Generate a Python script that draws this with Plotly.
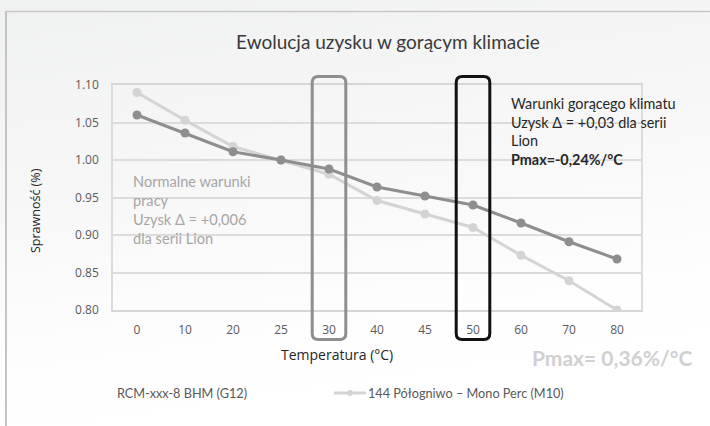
import base64
import plotly.graph_objects as go

# ---- data ----
temperatures = ["0", "10", "20", "25", "30", "40", "45", "50", "60", "70", "80"]
rcm_g12 = [1.060, 1.036, 1.011, 1.000, 0.988, 0.964, 0.952, 0.940, 0.916, 0.891, 0.868]
mono_m10 = [1.090, 1.053, 1.018, 1.000, 0.981, 0.946, 0.928, 0.910, 0.873, 0.839, 0.800]
y_ticks = [0.80, 0.85, 0.90, 0.95, 1.00, 1.05, 1.10]
highlight_normal = "30"
highlight_hot = "50"

W, H = 710, 426
ML, MR, MT, MB = 113, 69, 85, 116
PW, PH = W - ML - MR, H - MT - MB
XMIN, XMAX = -0.5, len(temperatures) - 0.5
YMIN, YMAX = 0.80, 1.10

DARK = "#8e8e90"
LIGHT = "#d4d4d4"

idx = list(range(len(temperatures)))


def px_x(p):
    return (p - ML) / PW


def px_y(p):
    return (H - MB - p) / PH


def xp(i):
    return (i - XMIN) / (XMAX - XMIN)


def rounded_box(cat, color, width):
    i = temperatures.index(cat)
    x0, x1 = xp(i - 0.35), xp(i + 0.35)
    y0, y1 = px_y(339.5), px_y(76.5)
    rx, ry = 6 / PW, 6 / PH
    path = (f"M {x0+rx},{y1} L {x1-rx},{y1} Q {x1},{y1} {x1},{y1-ry} "
            f"L {x1},{y0+ry} Q {x1},{y0} {x1-rx},{y0} L {x0+rx},{y0} "
            f"Q {x0},{y0} {x0},{y0+ry} L {x0},{y1-ry} Q {x0},{y1} {x0+rx},{y1} Z")
    return dict(type="path", path=path, xref="paper", yref="paper",
                line=dict(color=color, width=width), fillcolor="rgba(0,0,0,0)",
                layer="above")


fig = go.Figure()
fig.add_trace(go.Scatter(x=idx, y=mono_m10, mode="lines+markers",
                         line=dict(color=LIGHT, width=3),
                         marker=dict(color=LIGHT, size=9),
                         name="144 Półogniwo – Mono Perc (M10)", showlegend=False))
fig.add_trace(go.Scatter(x=idx, y=rcm_g12, mode="lines+markers",
                         line=dict(color=DARK, width=3),
                         marker=dict(color=DARK, size=9),
                         name="RCM-xxx-8 BHM (G12)", showlegend=False))

svg = (f'<svg xmlns="http://www.w3.org/2000/svg" width="{W}" height="{H}">'
       '<defs><linearGradient id="g" x1="0" y1="0" x2="0.25" y2="1">'
       '<stop offset="0" stop-color="#f0f1f1"/><stop offset="0.45" stop-color="#f7f7f7"/>'
       '<stop offset="0.85" stop-color="#fefefe"/><stop offset="1" stop-color="#ffffff"/>'
       f'</linearGradient></defs><rect width="{W}" height="{H}" fill="url(#g)"/></svg>')
src = "data:image/svg+xml;base64," + base64.b64encode(svg.encode()).decode()

shapes = [
    # outer frame (left and top)
    dict(type="line", xref="paper", yref="paper", x0=px_x(6), x1=px_x(6),
         y0=px_y(11), y1=px_y(H + 5), line=dict(color="#c4c4c4", width=2)),
    dict(type="line", xref="paper", yref="paper", x0=px_x(6), x1=px_x(W + 5),
         y0=px_y(11.5), y1=px_y(11.5), line=dict(color="#c8c8c8", width=1.5)),
    rounded_box(highlight_normal, DARK, 3),
    rounded_box(highlight_hot, "#111111", 3),
    # legend symbol for M10
    dict(type="line", xref="paper", yref="paper", x0=px_x(334), x1=px_x(366),
         y0=px_y(393), y1=px_y(393), line=dict(color=LIGHT, width=3)),
    dict(type="circle", xref="paper", yref="paper", x0=px_x(347), x1=px_x(353),
         y0=px_y(396), y1=px_y(390), line=dict(width=0), fillcolor=LIGHT),
]

TXT = "Lato, 'Open Sans', sans-serif"
anns = [
    dict(text="Ewolucja uzysku w gorącym klimacie", x=px_x(388), y=px_y(41),
         font=dict(family=TXT, size=19, color="#3a3a3a"), xanchor="center", yanchor="middle"),
    dict(text="Temperatura (°C)", x=px_x(337), y=px_y(354),
         font=dict(family="'Open Sans', sans-serif", size=14, color="#262626"),
         xanchor="center", yanchor="middle"),
    dict(text="Sprawność (%)", x=px_x(35), y=px_y(211), textangle=-90,
         font=dict(family="'Open Sans', sans-serif", size=12.5, color="#262626"),
         xanchor="center", yanchor="middle"),
    dict(text="Normalne warunki<br>pracy<br>Uzysk Δ = +0,006<br>dla serii Lion",
         x=px_x(131), y=px_y(171), align="left",
         font=dict(family=TXT, size=14.6, color="#a6a6a6"), xanchor="left", yanchor="top"),
    dict(text="Warunki gorącego klimatu<br>Uzysk Δ = +0,03 dla serii<br>Lion<br><b>Pmax=-0,24%/°C</b>",
         x=px_x(509), y=px_y(93), align="left",
         font=dict(family=TXT, size=14.4, color="#262626"), xanchor="left", yanchor="top"),
    dict(text="<b>Pmax= 0,36%/°C</b>", x=px_x(530), y=px_y(357),
         font=dict(family=TXT, size=21, color="#d0d0d0"), xanchor="left", yanchor="middle"),
    dict(text="RCM-xxx-8 BHM (G12)", x=px_x(115), y=px_y(393),
         font=dict(family=TXT, size=12.7, color="#595959"), xanchor="left", yanchor="middle"),
    dict(text="144 Półogniwo – Mono Perc (M10)", x=px_x(366), y=px_y(393),
         font=dict(family=TXT, size=12.7, color="#595959"), xanchor="left", yanchor="middle"),
]
for a in anns:
    a.update(xref="paper", yref="paper", showarrow=False)

fig.update_layout(
    width=W, height=H,
    margin=dict(l=ML, r=MR, t=MT, b=MB),
    paper_bgcolor="#ffffff", plot_bgcolor="rgba(0,0,0,0)",
    images=[dict(source=src, xref="paper", yref="paper", x=px_x(0), y=px_y(0),
                 sizex=W / PW, sizey=H / PH, xanchor="left", yanchor="top",
                 sizing="stretch", layer="below")],
    shapes=shapes, annotations=anns,
    showlegend=False,
)
fig.update_xaxes(range=[XMIN, XMAX], tickvals=idx, ticktext=temperatures,
                 showgrid=False, zeroline=False, showline=True, mirror=True,
                 linecolor="#d6d6d6", linewidth=2,
                 ticks="outside", ticklen=8, tickcolor="rgba(0,0,0,0)",
                 tickfont=dict(family="'Open Sans', sans-serif", size=12, color="#595959"))
fig.update_yaxes(range=[YMIN, YMAX], tickvals=y_ticks,
                 ticktext=[f"{v:.2f}" for v in y_ticks],
                 showgrid=True, gridcolor="#dcdcdc", gridwidth=1.5, zeroline=False,
                 showline=True, mirror=True, linecolor="#dcdcdc", linewidth=1.5,
                 ticks="outside", ticklen=10, tickcolor="rgba(0,0,0,0)",
                 tickfont=dict(family="'Open Sans', sans-serif", size=12, color="#595959"))

fig.write_html("out.html", config={"displayModeBar": False},
               post_script="document.body.style.margin='0px';")
